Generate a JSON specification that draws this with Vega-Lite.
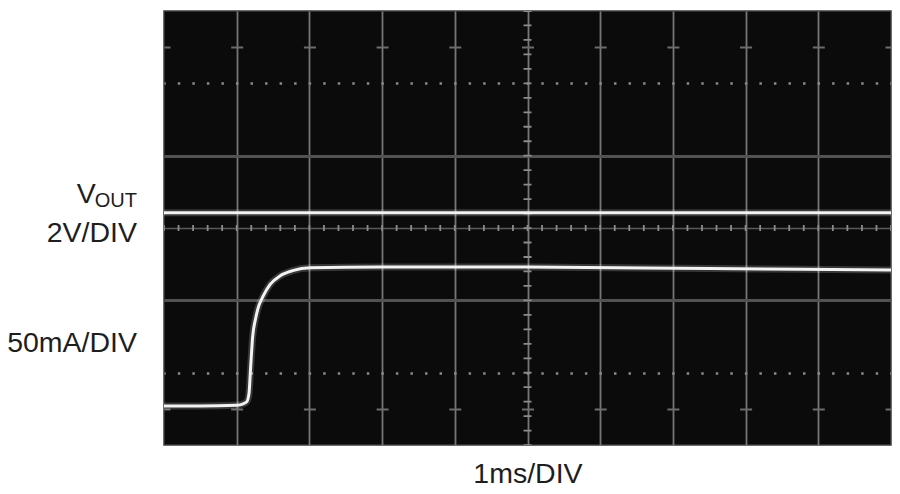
{
  "$schema": "https://vega.github.io/schema/vega-lite/v6.json",
  "width": 727,
  "height": 434,
  "autosize": {"type": "none"},
  "padding": {"left": 164, "top": 11, "right": 9, "bottom": 49},
  "background": "#ffffff",
  "config": {
    "font": "Liberation Sans",
    "view": {"fill": "#0b0b0b", "stroke": "#3c3c3c", "strokeWidth": 1.5}
  },
  "datasets": {
    "traces": [
      {"trace": "VOUT", "t": 0, "v": 3.21},
      {"trace": "VOUT", "t": 5, "v": 3.21},
      {"trace": "VOUT", "t": 10, "v": 3.21},
      {"trace": "IOUT", "t": 0, "v": 0.54},
      {"trace": "IOUT", "t": 0.5, "v": 0.54},
      {"trace": "IOUT", "t": 1.0, "v": 0.55},
      {"trace": "IOUT", "t": 1.09, "v": 0.57},
      {"trace": "IOUT", "t": 1.14, "v": 0.6},
      {"trace": "IOUT", "t": 1.17, "v": 0.72},
      {"trace": "IOUT", "t": 1.19, "v": 1.05},
      {"trace": "IOUT", "t": 1.22, "v": 1.5},
      {"trace": "IOUT", "t": 1.26, "v": 1.75},
      {"trace": "IOUT", "t": 1.29, "v": 1.88},
      {"trace": "IOUT", "t": 1.36, "v": 2.05},
      {"trace": "IOUT", "t": 1.46, "v": 2.22},
      {"trace": "IOUT", "t": 1.6, "v": 2.34},
      {"trace": "IOUT", "t": 1.77, "v": 2.41},
      {"trace": "IOUT", "t": 2.01, "v": 2.45},
      {"trace": "IOUT", "t": 3.0, "v": 2.46},
      {"trace": "IOUT", "t": 5.0, "v": 2.46},
      {"trace": "IOUT", "t": 7.5, "v": 2.44},
      {"trace": "IOUT", "t": 10, "v": 2.42}
    ],
    "center": [
      {"dir": "vertical", "t": 5, "t2": 5, "v": 6, "v2": 0},
      {"dir": "horizontal", "t": 0, "t2": 10, "v": 3, "v2": 3}
    ],
    "labels": [
      {"kind": "main", "text": "V", "t": -0.94, "v": 3.342},
      {"kind": "sub", "text": "OUT", "t": -0.371, "v": 3.286},
      {"kind": "main", "text": "2V/DIV", "t": -0.371, "v": 2.811},
      {"kind": "main", "text": "50mA/DIV", "t": -0.371, "v": 1.29}
    ]
  },
  "encoding": {
    "x": {
      "field": "t",
      "type": "quantitative",
      "scale": {"domain": [0, 10], "nice": false, "zero": false},
      "axis": {
        "title": "1ms/DIV",
        "titleFontSize": 28.5,
        "titleFontWeight": "normal",
        "titleColor": "#1e1e1e",
        "titlePadding": 14,
        "values": [1, 2, 3, 4, 5, 6, 7, 8, 9],
        "labels": false,
        "ticks": false,
        "domain": false,
        "grid": true,
        "gridColor": "#767676",
        "gridWidth": 1.8,
        "gridOpacity": 1
      }
    },
    "y": {
      "field": "v",
      "type": "quantitative",
      "scale": {"domain": [0, 6], "nice": false, "zero": false},
      "axis": {
        "title": null,
        "values": [0.5, 1, 2, 3, 4, 5, 5.5],
        "labels": false,
        "ticks": false,
        "domain": false,
        "grid": true,
        "gridOpacity": 1,
        "gridColor": {
          "condition": [
            {"test": "datum.value == 2 || datum.value == 4", "value": "#525252"},
            {"test": "datum.value == 3", "value": "#5a5a5a"},
            {"test": "datum.value == 1 || datum.value == 5", "value": "#8a8a8a"}
          ],
          "value": "#6c6c6c"
        },
        "gridWidth": {
          "condition": [
            {"test": "datum.value == 2 || datum.value == 4", "value": 3},
            {"test": "datum.value == 3", "value": 1.5},
            {"test": "datum.value == 1 || datum.value == 5", "value": 2.5}
          ],
          "value": 2
        },
        "gridDash": {
          "condition": [
            {"test": "datum.value == 0.5 || datum.value == 5.5", "value": [12, 60.7]},
            {"test": "datum.value == 1 || datum.value == 5", "value": [2.5, 12.04]}
          ],
          "value": []
        },
        "gridDashOffset": {
          "condition": [
            {"test": "datum.value == 0.5 || datum.value == 5.5", "value": 6},
            {"test": "datum.value == 1 || datum.value == 5", "value": 1.25}
          ],
          "value": 0
        }
      }
    }
  },
  "layer": [
    {
      "data": {"name": "traces"},
      "mark": {"type": "line", "stroke": "#ffffff", "strokeWidth": 7, "opacity": 0.18, "interpolate": "monotone"},
      "encoding": {"detail": {"field": "trace"}}
    },
    {
      "data": {"name": "center"},
      "transform": [{"filter": "datum.dir == 'vertical'"}],
      "mark": {"type": "rule", "color": "#8c8c8c", "strokeWidth": 8, "strokeDash": [1.8, 12.67], "strokeDashOffset": 0.9},
      "encoding": {"x2": {"field": "t2"}, "y2": {"field": "v2"}}
    },
    {
      "data": {"name": "center"},
      "transform": [{"filter": "datum.dir == 'horizontal'"}],
      "mark": {"type": "rule", "color": "#8c8c8c", "strokeWidth": 6, "strokeDash": [1.8, 12.74], "strokeDashOffset": 0.9},
      "encoding": {"x2": {"field": "t2"}, "y2": {"field": "v2"}}
    },
    {
      "data": {"name": "traces"},
      "mark": {"type": "line", "stroke": "#f2f2f2", "strokeWidth": 3, "interpolate": "monotone"},
      "encoding": {"detail": {"field": "trace"}}
    },
    {
      "data": {"name": "labels"},
      "transform": [{"filter": "datum.kind == 'main'"}],
      "mark": {"type": "text", "align": "right", "baseline": "alphabetic", "fontSize": 28.5, "color": "#1e1e1e"},
      "encoding": {"text": {"field": "text"}}
    },
    {
      "data": {"name": "labels"},
      "transform": [{"filter": "datum.kind == 'sub'"}],
      "mark": {"type": "text", "align": "right", "baseline": "alphabetic", "fontSize": 20, "color": "#1e1e1e"},
      "encoding": {"text": {"field": "text"}}
    }
  ]
}
